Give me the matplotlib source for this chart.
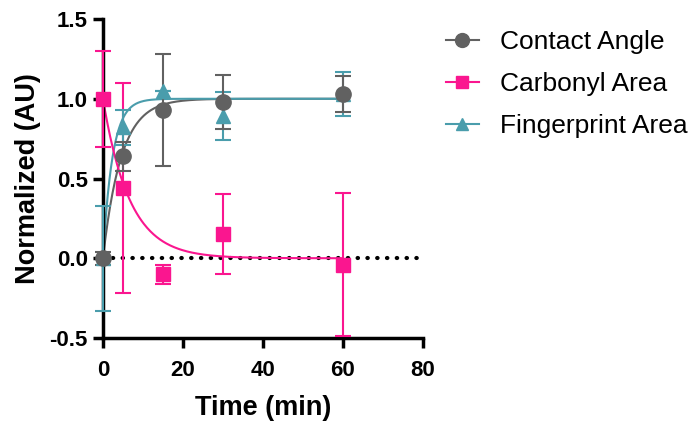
import numpy as np
import matplotlib.pyplot as plt
from matplotlib.lines import Line2D

plt.rcParams['font.family'] = ['Liberation Sans', 'DejaVu Sans']

time = [0, 5, 15, 30, 60]

contact_angle = [0.0, 0.64, 0.93, 0.98, 1.03]
contact_err = [0.04, 0.09, 0.35, 0.17, 0.11]
contact_k = 0.22

carbonyl = [1.0, 0.44, -0.10, 0.15, -0.04]
carbonyl_err = [0.30, 0.66, 0.06, 0.25, 0.45]
carbonyl_k = 0.15

fingerprint = [0.0, 0.82, 1.05, 0.89, 1.03]
fingerprint_err = [0.33, 0.11, 0.0, 0.15, 0.14]
fingerprint_k = 0.42

gray = '#616161'
pink = '#FA168F'
teal = '#4A9DAC'

fig = plt.figure(figsize=(6.91, 4.23), dpi=100)
ax = fig.add_axes([0.149, 0.201, 0.463, 0.754])

# baseline
ax.plot([0, 80], [0, 0], color='black', lw=3, linestyle=(0, (0.1, 2.25)),
        dash_capstyle='round', zorder=1)

# one-phase exponential fits
t_fit = np.linspace(0, 60, 300)
ax.plot(t_fit, 1 - np.exp(-contact_k * t_fit), color=gray, lw=1.5, zorder=2)
ax.plot(t_fit, 1 - np.exp(-fingerprint_k * t_fit), color=teal, lw=1.5, zorder=2)
ax.plot(t_fit, np.exp(-carbonyl_k * t_fit), color=pink, lw=1.5, zorder=2)

series = [
    (carbonyl, carbonyl_err, pink, 's', 10),
    (fingerprint, fingerprint_err, teal, '^', 10),
    (contact_angle, contact_err, gray, 'o', 11),
]
for vals, errs, col, mk, ms in series:
    eb = ax.errorbar(time, vals, yerr=errs, fmt=mk, color=col, ms=ms, mec=col,
                     elinewidth=1.5, capsize=6, capthick=1.5, zorder=3)
    for art in eb.lines[0:1] + tuple(eb.lines[1]) + tuple(eb.lines[2]):
        art.set_clip_on(False)

ax.set_xlim(0, 80)
ax.set_ylim(-0.5, 1.5)
ax.set_xticks([0, 20, 40, 60, 80])
ax.set_yticks([-0.5, 0.0, 0.5, 1.0, 1.5])
ax.set_yticklabels(['-0.5', '0.0', '0.5', '1.0', '1.5'])
for side in ['top', 'right']:
    ax.spines[side].set_visible(False)
for side in ['left', 'bottom']:
    ax.spines[side].set_linewidth(2.5)
    ax.spines[side].set_capstyle('projecting')
ax.tick_params(width=2.5, length=7, labelsize=16, pad=4)
ax.tick_params(axis='x', pad=9)
for lab in ax.get_xticklabels() + ax.get_yticklabels():
    lab.set_fontweight('bold')
ax.set_xlabel('Time (min)', fontsize=19.5, fontweight='bold', labelpad=10)
ax.set_ylabel('Normalized (AU)', fontsize=19.5, fontweight='bold', labelpad=6)

handles = [
    Line2D([], [], color=gray, marker='o', ms=10, lw=1.5),
    Line2D([], [], color=pink, marker='s', ms=9, lw=1.5),
    Line2D([], [], color=teal, marker='^', ms=9, lw=1.5),
]
labels = ['Contact Angle', 'Carbonyl Area', 'Fingerprint Area']
fig.legend(handles, labels, loc='upper left', bbox_to_anchor=(0.645, 0.928),
           frameon=False, fontsize=19, handlelength=1.25, handletextpad=0.8,
           labelspacing=0.67, borderpad=0, borderaxespad=0)

fig.savefig('out.png', dpi=100)
